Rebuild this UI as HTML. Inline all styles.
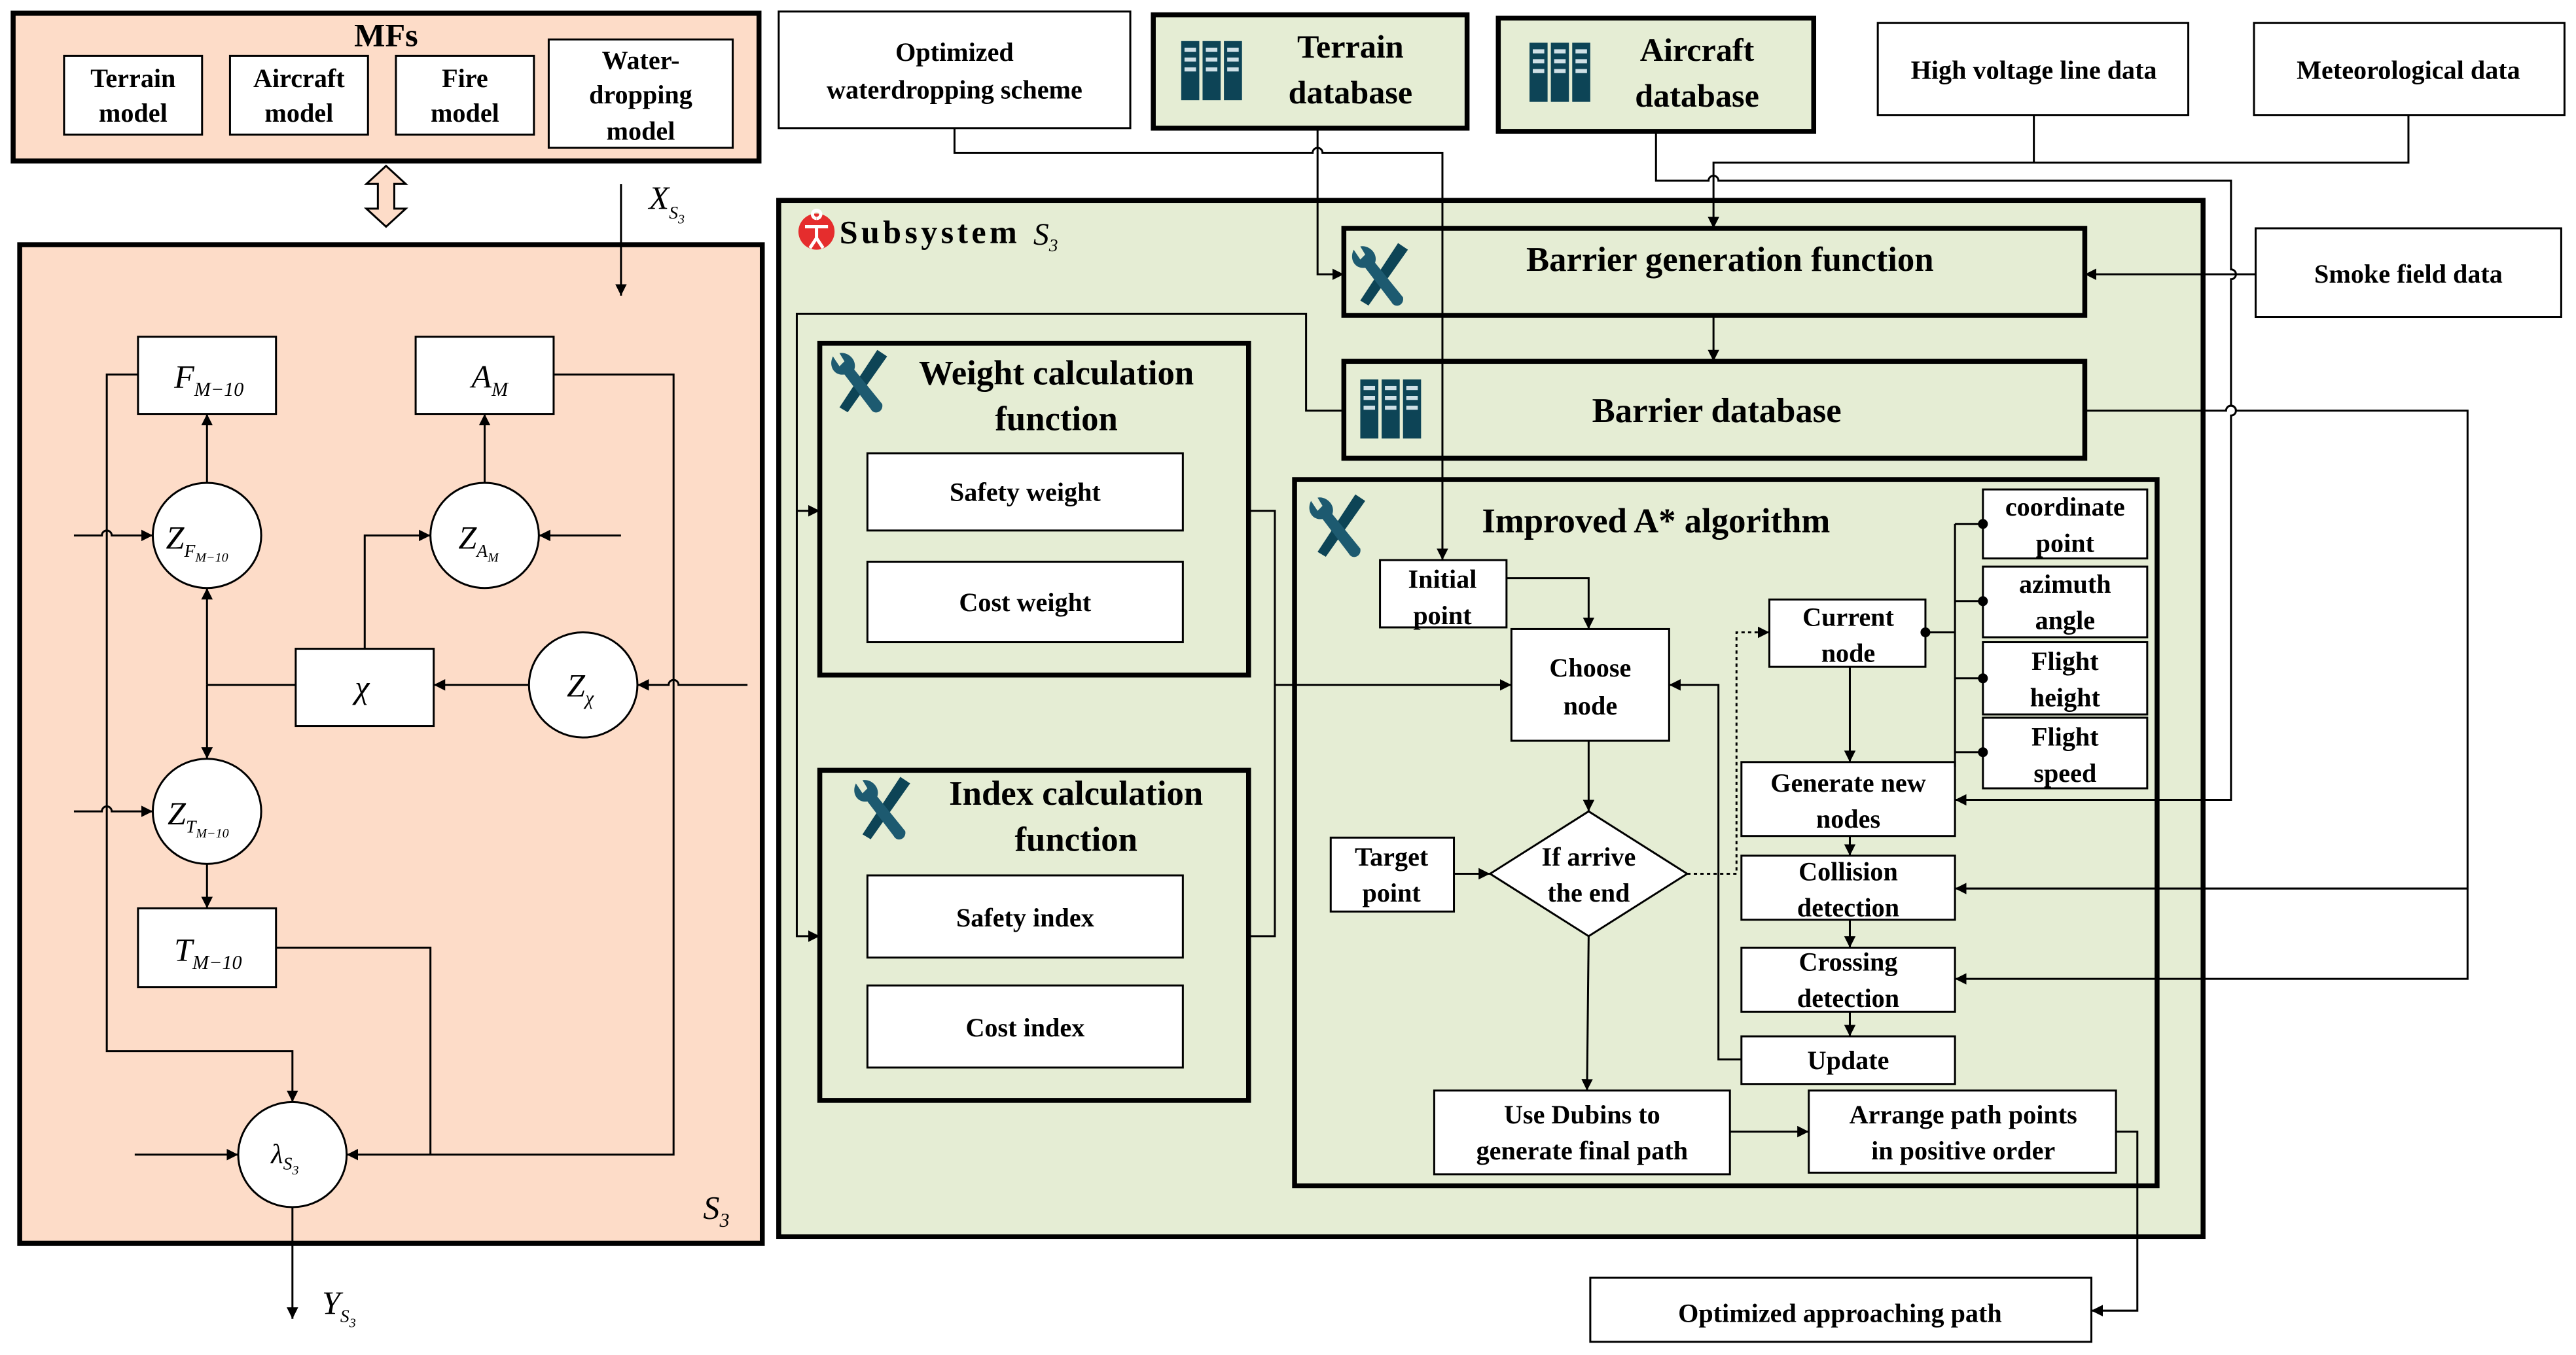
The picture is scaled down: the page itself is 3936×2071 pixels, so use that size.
<!DOCTYPE html>
<html><head><meta charset="utf-8"><style>
html,body{margin:0;padding:0;background:#fff;width:3936px;height:2071px;overflow:hidden}
svg{display:block}
text{font-family:"Liberation Serif",serif;font-weight:bold;fill:#000}
.it{font-style:italic;font-weight:normal}
</style></head><body>
<svg width="3936" height="2071" viewBox="0 0 1568 825" xmlns="http://www.w3.org/2000/svg">
<defs>
<marker id="a" viewBox="0 0 10 10" refX="10" refY="5" markerWidth="7" markerHeight="7" orient="auto" markerUnits="userSpaceOnUse"><path d="M0,0L10,5L0,10z" fill="#000"/></marker>
<g id="db"><rect x="0" y="0" width="11" height="36" fill="#0d4456"/><rect x="13" y="0" width="11" height="36" fill="#0d4456"/><rect x="26" y="0" width="11" height="36" fill="#0d4456"/>
<g fill="#cfe0e6"><rect x="2" y="4" width="7" height="2.5"/><rect x="2" y="10" width="7" height="2.5"/><rect x="2" y="16" width="7" height="2.5"/><rect x="15" y="4" width="7" height="2.5"/><rect x="15" y="10" width="7" height="2.5"/><rect x="15" y="16" width="7" height="2.5"/><rect x="28" y="4" width="7" height="2.5"/><rect x="28" y="10" width="7" height="2.5"/><rect x="28" y="16" width="7" height="2.5"/></g></g>
<g id="tool"><path d="M30,2 L36,6 L12,40 L7,37 Z" fill="#0d4456"/><path d="M3,6 C0,12 4,18 10,17 L26,38 C28,42 34,40 33,35 L16,14 C18,8 12,3 7,4 L10,9 L7,12 Z" fill="#1d5a70"/></g>
</defs>
<g stroke="#000" fill="none" stroke-width="1.2">
<!-- Left MFs -->
<rect x="8" y="8" width="454" height="90" fill="#fddcc8" stroke-width="3"/>
<rect x="39" y="34" width="84" height="48" fill="#fff"/>
<rect x="140" y="34" width="84" height="48" fill="#fff"/>
<rect x="241" y="34" width="84" height="48" fill="#fff"/>
<rect x="334" y="24" width="112" height="66" fill="#fff"/>
<path d="M235,101 L247,112 L240,112 L240,127 L247,127 L235,138 L223,127 L230,127 L230,112 L223,112 Z" fill="#fddcc8"/>
<rect x="12" y="149" width="452" height="608" fill="#fddcc8" stroke-width="3"/>
<line x1="378" y1="112" x2="378" y2="180" marker-end="url(#a)"/>
<rect x="84" y="205" width="84" height="47" fill="#fff"/>
<rect x="253" y="205" width="84" height="47" fill="#fff"/>
<ellipse cx="126" cy="326" rx="33" ry="32" fill="#fff"/>
<ellipse cx="295" cy="326" rx="33" ry="32" fill="#fff"/>
<rect x="180" y="395" width="84" height="47" fill="#fff"/>
<ellipse cx="355" cy="417" rx="33" ry="32" fill="#fff"/>
<ellipse cx="126" cy="494" rx="33" ry="32" fill="#fff"/>
<rect x="84" y="553" width="84" height="48" fill="#fff"/>
<ellipse cx="178" cy="703" rx="33" ry="32" fill="#fff"/>
<line x1="126" y1="294" x2="126" y2="252" marker-end="url(#a)"/>
<line x1="295" y1="294" x2="295" y2="252" marker-end="url(#a)"/>
<path d="M84,228 H65 V640 H178 V671" marker-end="url(#a)"/>
<path d="M337,228 H410 V703 H211" marker-end="url(#a)"/>
<path d="M168,577 H262 V703"/>
<path d="M45,326 H62 A3,3 0 0 1 68,326 H93" marker-end="url(#a)"/>
<path d="M45,494 H62 A3,3 0 0 1 68,494 H93" marker-end="url(#a)"/>
<line x1="82" y1="703" x2="145" y2="703" marker-end="url(#a)"/>
<line x1="378" y1="326" x2="328" y2="326" marker-end="url(#a)"/>
<path d="M222,395 V326 H262" marker-end="url(#a)"/>
<line x1="322" y1="417" x2="264" y2="417" marker-end="url(#a)"/>
<path d="M455,417 H413 A3,3 0 0 0 407,417 H388" marker-end="url(#a)"/>
<line x1="126" y1="417" x2="126" y2="358" marker-end="url(#a)"/>
<line x1="126" y1="417" x2="126" y2="462" marker-end="url(#a)"/>
<line x1="180" y1="417" x2="126" y2="417"/>
<line x1="126" y1="526" x2="126" y2="553" marker-end="url(#a)"/>
<line x1="178" y1="735" x2="178" y2="803" marker-end="url(#a)"/>

<!-- Top right boxes -->
<rect x="474" y="7" width="214" height="71" fill="#fff"/>
<rect x="702" y="9" width="191" height="69" fill="#e5edd4" stroke-width="3"/>
<rect x="912" y="11" width="192" height="69" fill="#e5edd4" stroke-width="3"/>
<rect x="1143" y="14" width="189" height="56" fill="#fff"/>
<rect x="1372" y="14" width="189" height="56" fill="#fff"/>
<rect x="1373" y="139" width="186" height="54" fill="#fff"/>

<!-- Subsystem -->
<rect x="474" y="122" width="867" height="631" fill="#e5edd4" stroke-width="3"/>
<rect x="818" y="139" width="451" height="53" fill="#e5edd4" stroke-width="3"/>
<rect x="818" y="220" width="451" height="59" fill="#e5edd4" stroke-width="3"/>
<rect x="499" y="209" width="261" height="202" fill="#e5edd4" stroke-width="3"/>
<rect x="528" y="276" width="192" height="47" fill="#fff"/>
<rect x="528" y="342" width="192" height="49" fill="#fff"/>
<rect x="499" y="469" width="261" height="201" fill="#e5edd4" stroke-width="3"/>
<rect x="528" y="533" width="192" height="50" fill="#fff"/>
<rect x="528" y="600" width="192" height="50" fill="#fff"/>
<rect x="788" y="292" width="525" height="430" fill="#e5edd4" stroke-width="3"/>

<rect x="840" y="341" width="77" height="41" fill="#fff"/>
<rect x="920" y="383" width="96" height="68" fill="#fff"/>
<rect x="1077" y="365" width="95" height="41" fill="#fff"/>
<rect x="1207" y="298" width="100" height="42" fill="#fff"/>
<rect x="1207" y="345" width="100" height="43" fill="#fff"/>
<rect x="1207" y="391" width="100" height="44" fill="#fff"/>
<rect x="1207" y="437" width="100" height="43" fill="#fff"/>
<rect x="1060" y="464" width="130" height="45" fill="#fff"/>
<rect x="1060" y="521" width="130" height="39" fill="#fff"/>
<rect x="1060" y="577" width="130" height="39" fill="#fff"/>
<rect x="1060" y="631" width="130" height="29" fill="#fff"/>
<rect x="810" y="510" width="75" height="45" fill="#fff"/>
<path d="M967,494 L1027,532 L967,570 L907,532 Z" fill="#fff"/>
<rect x="873" y="664" width="180" height="51" fill="#fff"/>
<rect x="1101" y="664" width="187" height="50" fill="#fff"/>
<rect x="968" y="778" width="305" height="39" fill="#fff"/>

<!-- connectors right -->
<path d="M581,78 V93 H799 A3,3 0 0 1 805,93 H878 V341" marker-end="url(#a)"/>
<path d="M802,78 V167 H818" marker-end="url(#a)"/>
<path d="M1238,70 V99 M1466,70 V99 H1043 V139" marker-end="url(#a)"/>
<path d="M1008,80 V110 H1040 A3,3 0 0 1 1046,110 H1358 V164 A3,3 0 0 1 1358,170 V247 A3,3 0 0 1 1358,253 V487 H1190" marker-end="url(#a)"/>
<line x1="1373" y1="167" x2="1269" y2="167" marker-end="url(#a)"/>
<line x1="1043" y1="192" x2="1043" y2="220" marker-end="url(#a)"/>
<path d="M1269,250 H1355 A3,3 0 0 1 1361,250 H1502 V596 H1190" marker-end="url(#a)"/>
<path d="M1502,541 H1190" marker-end="url(#a)"/>
<path d="M818,250 H795 V191 H485 V570 H499" marker-end="url(#a)"/>
<path d="M485,311 H499" marker-end="url(#a)"/>
<path d="M760,311 H776 V570 H760"/>
<path d="M776,417 H920" marker-end="url(#a)"/>
<path d="M917,352 H967 V383" marker-end="url(#a)"/>
<line x1="967" y1="451" x2="967" y2="494" marker-end="url(#a)"/>
<line x1="885" y1="532" x2="907" y2="532" marker-end="url(#a)"/>
<path d="M1027,532 H1057 V385 H1077" stroke-dasharray="2,2" marker-end="url(#a)"/>
<path d="M967,570 L966,664" marker-end="url(#a)"/>
<path d="M1060,645 H1046 V417 H1016" marker-end="url(#a)"/>
<line x1="1126" y1="406" x2="1126" y2="464" marker-end="url(#a)"/>
<path d="M1172,385 H1190 M1190,319 V467 M1190,319 H1207 M1190,366 H1207 M1190,413 H1207 M1190,458 H1207"/>
<line x1="1126" y1="509" x2="1126" y2="521" marker-end="url(#a)"/>
<line x1="1126" y1="560" x2="1126" y2="577" marker-end="url(#a)"/>
<line x1="1126" y1="616" x2="1126" y2="631" marker-end="url(#a)"/>
<line x1="1053" y1="689" x2="1101" y2="689" marker-end="url(#a)"/>
<path d="M1288,689 H1301 V798 H1273" marker-end="url(#a)"/>
</g>
<g fill="#000"><circle cx="1172" cy="385" r="3"/><circle cx="1207" cy="319" r="3"/><circle cx="1207" cy="366" r="3"/><circle cx="1207" cy="413" r="3"/><circle cx="1207" cy="458" r="3"/></g>

<!-- icons -->
<use href="#db" x="719" y="25"/>
<use href="#db" x="931" y="26"/>
<use href="#db" x="828" y="231"/>
<use href="#tool" x="821" y="146"/>
<use href="#tool" x="504" y="211"/>
<use href="#tool" x="518" y="471"/>
<use href="#tool" x="795" y="299"/>
<circle cx="497" cy="141" r="11" fill="#e52d2d"/>
<path d="M497,133 a2.5,2.5 0 1 1 0.1,0 M490,138 H504 M497,137 V145 M497,145 L493,151 M497,145 L501,151" stroke="#fff" stroke-width="2" fill="none"/>

<!-- text -->
<g font-size="16" text-anchor="middle">
<text x="235" y="28" font-size="20">MFs</text>
<text x="81" y="53">Terrain</text><text x="81" y="74">model</text>
<text x="182" y="53">Aircraft</text><text x="182" y="74">model</text>
<text x="283" y="53">Fire</text><text x="283" y="74">model</text>
<text x="390" y="42">Water-</text><text x="390" y="63">dropping</text><text x="390" y="85">model</text>
<text x="581" y="37">Optimized</text><text x="581" y="60">waterdropping scheme</text>
<text x="822" y="35" font-size="20">Terrain</text><text x="822" y="63" font-size="20">database</text>
<text x="1033" y="37" font-size="20">Aircraft</text><text x="1033" y="65" font-size="20">database</text>
<text x="1238" y="48">High voltage line data</text>
<text x="1466" y="48">Meteorological data</text>
<text x="1466" y="172">Smoke field data</text>
<text x="1053" y="165" font-size="21">Barrier generation function</text>
<text x="1045" y="257" font-size="21">Barrier database</text>
<text x="643" y="234" font-size="21">Weight calculation</text><text x="643" y="262" font-size="21">function</text>
<text x="655" y="490" font-size="21">Index calculation</text><text x="655" y="518" font-size="21">function</text>
<text x="624" y="305">Safety weight</text>
<text x="624" y="372">Cost weight</text>
<text x="624" y="564">Safety index</text>
<text x="624" y="631">Cost index</text>
<text x="1008" y="324" font-size="21">Improved A* algorithm</text>
<text x="878" y="358">Initial</text><text x="878" y="380">point</text>
<text x="968" y="412">Choose</text><text x="968" y="435">node</text>
<text x="1125" y="381">Current</text><text x="1125" y="403">node</text>
<text x="1257" y="314">coordinate</text><text x="1257" y="336">point</text>
<text x="1257" y="361">azimuth</text><text x="1257" y="383">angle</text>
<text x="1257" y="408">Flight</text><text x="1257" y="430">height</text>
<text x="1257" y="454">Flight</text><text x="1257" y="476">speed</text>
<text x="1125" y="482">Generate  new</text><text x="1125" y="504">nodes</text>
<text x="1125" y="536">Collision</text><text x="1125" y="558">detection</text>
<text x="1125" y="591">Crossing</text><text x="1125" y="613">detection</text>
<text x="1125" y="651">Update</text>
<text x="847" y="527">Target</text><text x="847" y="549">point</text>
<text x="967" y="527">If arrive</text><text x="967" y="549">the end</text>
<text x="963" y="684">Use Dubins to</text><text x="963" y="706">generate final path</text>
<text x="1195" y="684">Arrange path points</text><text x="1195" y="706">in positive order</text>
<text x="1120" y="805">Optimized approaching path</text>
</g>
<text x="511" y="148" font-size="20" textLength="108">Subsystem</text>
<text x="629" y="149" font-size="19" class="it">S<tspan font-size="11" dy="4">3</tspan></text>
<g class="it" font-size="20">
<text x="395" y="127" class="it">X<tspan font-size="11" dy="6">S</tspan><tspan font-size="8" dy="3">3</tspan></text>
<text x="106" y="236" class="it">F<tspan font-size="12" dy="5">M−10</tspan></text>
<text x="287" y="236" class="it">A<tspan font-size="12" dy="5">M</tspan></text>
<text x="101" y="334" class="it">Z<tspan font-size="11" dy="5">F</tspan><tspan font-size="8" dy="3">M−10</tspan></text>
<text x="279" y="334" class="it">Z<tspan font-size="11" dy="5">A</tspan><tspan font-size="8" dy="3">M</tspan></text>
<text x="216" y="425" class="it">χ</text>
<text x="345" y="424" class="it">Z<tspan font-size="12" dy="5">χ</tspan></text>
<text x="102" y="502" class="it">Z<tspan font-size="11" dy="5">T</tspan><tspan font-size="8" dy="3">M−10</tspan></text>
<text x="106" y="585" class="it">T<tspan font-size="12" dy="5">M−10</tspan></text>
<text x="165" y="708" class="it" font-size="17">λ<tspan font-size="11" dy="4">S</tspan><tspan font-size="8" dy="3">3</tspan></text>
<text x="428" y="742" class="it">S<tspan font-size="12" dy="5">3</tspan></text>
<text x="196" y="800" class="it">Y<tspan font-size="11" dy="5">S</tspan><tspan font-size="8" dy="3">3</tspan></text>
</g>
</svg>
</body></html>
